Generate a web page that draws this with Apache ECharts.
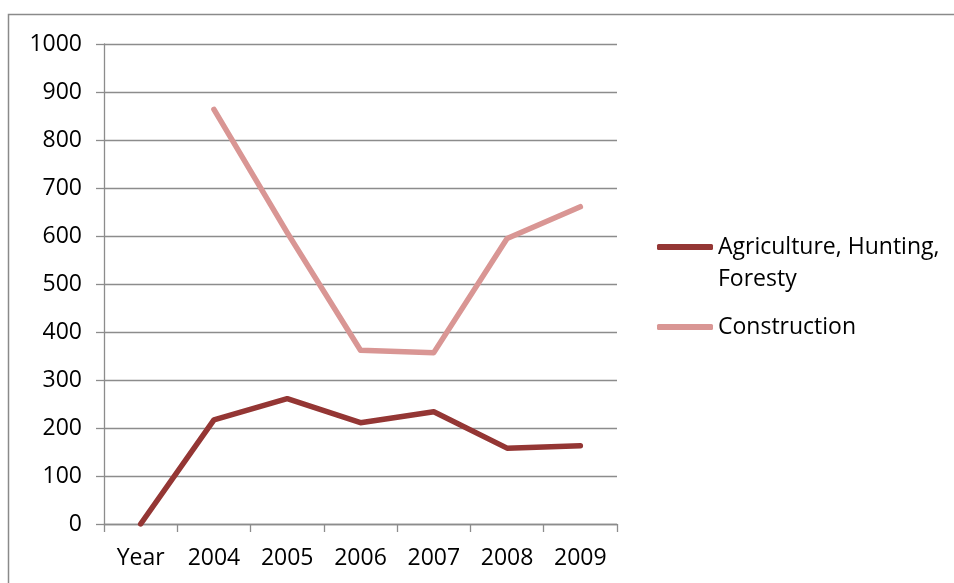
<!DOCTYPE html>
<html>
<head>
<meta charset="utf-8">
<script src="https://cdn.jsdelivr.net/npm/echarts@6/dist/echarts.min.js"></script>
<style>
  html, body { margin: 0; padding: 0; background: #ffffff; }
  #chart { width: 954px; height: 583px; }
</style>
</head>
<body>
<div id="chart"></div>
<script>
// Categories along the x axis
const categories = ['Year', '2004', '2005', '2006', '2007', '2008', '2009'];

// Series values
const agricultureName = 'Agriculture, Hunting, Foresty';
const agricultureValues = [0, 217, 261, 211, 234, 158, 163];

const constructionName = 'Construction';
const constructionValues = [null, 864, 607, 362, 357, 595, 661];

// Value axis range
const yMin = 0;
const yMax = 1000;
const yStep = 100;

const FONT = '"Open Sans", "Noto Sans", sans-serif';
const GRID_GRAY = '#8c8c8c';
const AGRI_COLOR = '#943634';
const CONS_COLOR = '#d99694';

const chart = echarts.init(document.getElementById('chart'), null, { renderer: 'canvas' });

chart.setOption({
  animation: false,
  backgroundColor: '#ffffff',
  graphic: [
    {
      type: 'rect',
      shape: { x: 8.5, y: 14.5, width: 1000, height: 700 },
      style: { fill: 'none', stroke: '#8a8a8a', lineWidth: 1.5 },
      silent: true
    }
  ],
  grid: { left: 104, top: 44, right: 337, bottom: 59, containLabel: false },
  legend: [
    {
      // blank leading line keeps the icon level with the first text line
      data: [{ name: agricultureName, icon: 'roundRect' }],
      orient: 'vertical',
      left: 657,
      top: 247 - 48,
      itemWidth: 56,
      itemHeight: 6,
      padding: 0,
      formatter: () => ' \nAgriculture, Hunting,\nForesty',
      textStyle: { fontFamily: FONT, fontSize: 23, color: '#000000', lineHeight: 32 },
      selectedMode: false
    },
    {
      data: [{ name: constructionName, icon: 'roundRect' }],
      orient: 'vertical',
      left: 657,
      top: 327 - 16,
      itemWidth: 56,
      itemHeight: 6,
      padding: 0,
      textStyle: { fontFamily: FONT, fontSize: 23, color: '#000000', lineHeight: 32 },
      selectedMode: false
    }
  ],
  xAxis: {
    type: 'category',
    data: categories,
    boundaryGap: true,
    axisLine: { show: true, lineStyle: { color: GRID_GRAY, width: 1.3 } },
    axisTick: { show: true, length: 8, alignWithLabel: false, lineStyle: { color: GRID_GRAY, width: 1.3 } },
    axisLabel: { fontFamily: FONT, fontSize: 23, color: '#000000', margin: 23, interval: 0 },
    splitLine: { show: false }
  },
  yAxis: {
    type: 'value',
    min: yMin,
    max: yMax,
    interval: yStep,
    axisLine: { show: true, lineStyle: { color: GRID_GRAY, width: 1.3 } },
    axisTick: { show: true, length: 8, lineStyle: { color: GRID_GRAY, width: 1.3 } },
    axisLabel: { fontFamily: FONT, fontSize: 23, color: '#000000', margin: 22, formatter: (v) => String(v) },
    splitLine: { show: true, lineStyle: { color: GRID_GRAY, width: 1.3 } }
  },
  series: [
    {
      name: agricultureName,
      type: 'line',
      data: agricultureValues,
      showSymbol: false,
      symbol: 'none',
      color: AGRI_COLOR,
      lineStyle: { color: AGRI_COLOR, width: 5.5, cap: 'round', join: 'round' }
    },
    {
      name: constructionName,
      type: 'line',
      data: constructionValues,
      showSymbol: false,
      symbol: 'none',
      connectNulls: false,
      color: CONS_COLOR,
      lineStyle: { color: CONS_COLOR, width: 5.5, cap: 'round', join: 'round' }
    }
  ]
});
</script>
</body>
</html>
